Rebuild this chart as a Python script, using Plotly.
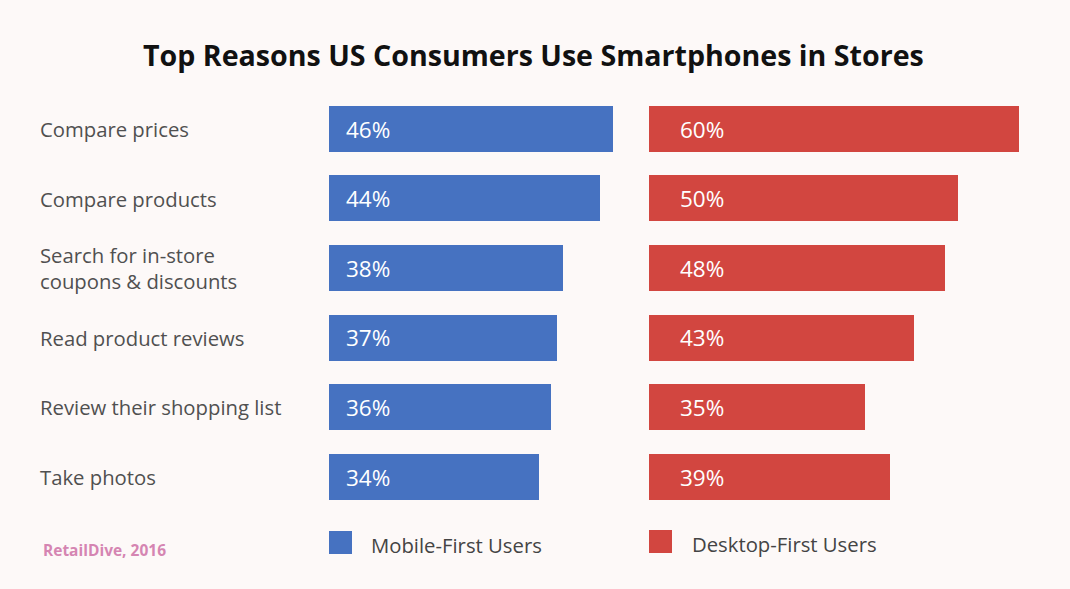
import plotly.graph_objects as go

categories = ["Compare prices", "Compare products", "Search for in-store<br>coupons & discounts",
              "Read product reviews", "Review their shopping list", "Take photos"]
mobile_first = [46, 44, 38, 37, 36, 34]
desktop_first = [60, 50, 48, 43, 35, 39]
series_names = ["Mobile-First Users", "Desktop-First Users"]
title_text = "Top Reasons US Consumers Use Smartphones in Stores"
source_text = "RetailDive, 2016"

BLUE = "#4672C1"
RED = "#D24640"
BG = "#FDF9F8"
W, H = 1070, 589
FONT = "Open Sans"

ypos = list(range(len(categories)))

fig = go.Figure()
fig.add_trace(go.Bar(x=mobile_first, y=ypos, orientation="h", marker=dict(color=BLUE, line_width=0),
                     width=0.66, xaxis="x", yaxis="y", name=series_names[0], showlegend=False,
                     hoverinfo="x"))
fig.add_trace(go.Bar(x=desktop_first, y=ypos, orientation="h", marker=dict(color=RED, line_width=0),
                     width=0.66, xaxis="x2", yaxis="y", name=series_names[1], showlegend=False,
                     hoverinfo="x"))

px_per = 6.17
x1_left, x1_right = 329, 629
x2_left, x2_right = 649, 1060
y_top_px, y_bot_px = 94.2, 511.8

ax_common = dict(showgrid=False, zeroline=False, showticklabels=False, showline=False, fixedrange=True)
fig.update_layout(
    width=W, height=H,
    paper_bgcolor=BG, plot_bgcolor="rgba(0,0,0,0)",
    margin=dict(l=0, r=0, t=0, b=0),
    xaxis=dict(domain=[x1_left / W, x1_right / W], range=[0, (x1_right - x1_left) / px_per], **ax_common),
    xaxis2=dict(domain=[x2_left / W, x2_right / W], range=[0, (x2_right - x2_left) / px_per], anchor="y", **ax_common),
    yaxis=dict(domain=[1 - y_bot_px / H, 1 - y_top_px / H], range=[5.5, -0.5], **ax_common),
    bargap=0,
    font=dict(family=FONT),
)

annotations = []
annotations.append(dict(text="<b>" + title_text + "</b>", xref="paper", yref="paper",
                        x=533 / W, y=1 - 55 / H, xanchor="center", yanchor="middle",
                        showarrow=False, font=dict(size=28.6, color="#111111", family=FONT)))
for i, cat in enumerate(categories):
    annotations.append(dict(text=cat, xref="paper", yref="y", x=38 / W, y=i, xanchor="left",
                            yanchor="middle", align="left", showarrow=False,
                            font=dict(size=20.3, color="#505050", family=FONT)))
    annotations.append(dict(text=f"{mobile_first[i]}%", xref="x", yref="y", x=0, y=i, xanchor="left",
                            yanchor="middle", xshift=15, showarrow=False,
                            font=dict(size=22.5, color="white", family=FONT)))
    annotations.append(dict(text=f"{desktop_first[i]}%", xref="x2", yref="y", x=0, y=i, xanchor="left",
                            yanchor="middle", xshift=29, showarrow=False,
                            font=dict(size=22.5, color="white", family=FONT)))

# legend
shapes = []
for (x0, y0, col, name, tx) in [(329, 531, BLUE, series_names[0], 369), (649, 530, RED, series_names[1], 690)]:
    shapes.append(dict(type="rect", xref="paper", yref="paper", x0=x0 / W, x1=(x0 + 23) / W,
                       y0=1 - (y0 + 23) / H, y1=1 - y0 / H, fillcolor=col, line_width=0))
    annotations.append(dict(text=name, xref="paper", yref="paper", x=tx / W, y=1 - (y0 + 14) / H,
                            xanchor="left", yanchor="middle", showarrow=False,
                            font=dict(size=20.3, color="#444444", family=FONT)))

annotations.append(dict(text="<b>" + source_text + "</b>", xref="paper", yref="paper", x=41 / W,
                        y=1 - 550 / H, xanchor="left", yanchor="middle", showarrow=False,
                        font=dict(size=15.5, color="#D585B2", family=FONT)))

fig.update_layout(annotations=annotations, shapes=shapes)
fig.write_html("out.html", config={"displayModeBar": False},
               post_script="document.body.style.margin='0';")
